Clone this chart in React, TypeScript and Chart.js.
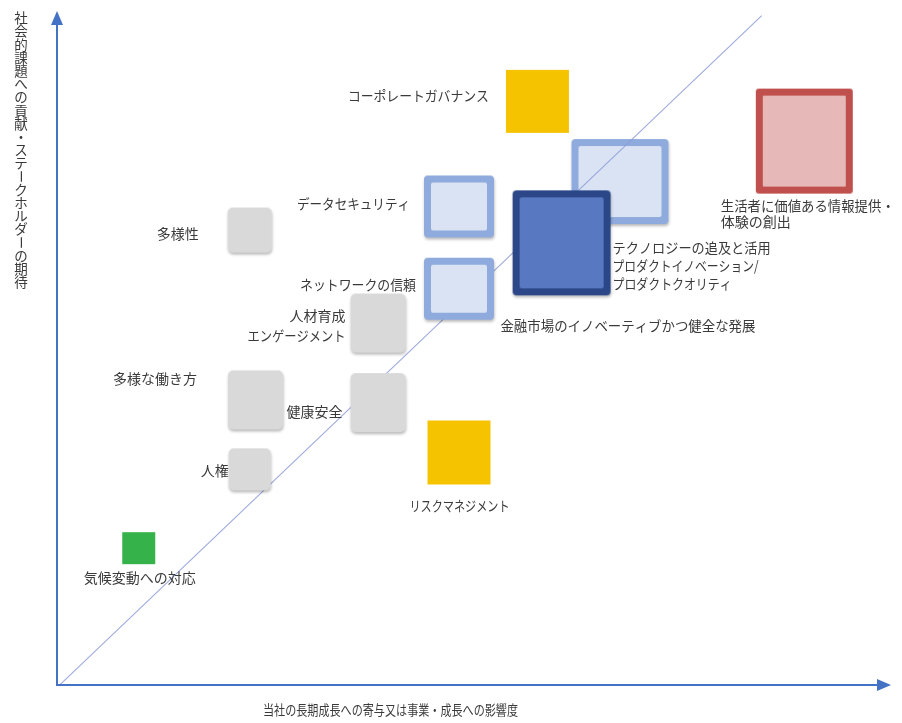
import React, { useEffect, useRef } from 'react';
import { Chart, registerables } from 'chart.js';

Chart.register(...registerables);

const FONT = "'Noto Sans CJK JP', 'Noto Sans CJK SC', sans-serif";
const TEXT = '#3a3a3a';
const AXIS = '#4472C4';
const W = 902;
const H = 723;

// ---- data ----
const topics: string[] = [
  'コーポレートガバナンス',
  '金融市場のイノベーティブかつ健全な発展',
  'テクノロジーの追及と活用\nプロダクトイノベーション/\nプロダクトクオリティ',
  '生活者に価値ある情報提供・\n体験の創出',
  'データセキュリティ',
  'ネットワークの信頼',
  '多様性',
  '人材育成\nエンゲージメント',
  '健康安全',
  '多様な働き方',
  '人権',
  'リスクマネジメント',
  '気候変動への対応',
];
// 当社の長期成長への寄与又は事業・成長への影響度 (x)
const businessImpact: number[] = [57.6, 67.5, 60.5, 89.6, 48.2, 48.2, 23.1, 38.5, 38.5, 23.8, 23.1, 48.2, 9.8];
// 社会的課題への貢献・ステークホルダーの期待 (y)
const stakeholderExpectation: number[] = [86.6, 74.7, 65.6, 80.7, 71.0, 58.8, 67.5, 53.7, 41.9, 42.3, 32.0, 34.5, 20.3];
// topics drawn beneath the reference diagonal
const backLayer: number[] = [1];
// reference diagonal
const diagonalX: number[] = [0.4, 84.5];
const diagonalY: number[] = [0.1, 99.3];

const xTitle = '当社の長期成長への寄与又は事業・成長への影響度';
const yTitle = '社会的課題への貢献・ステークホルダーの期待';

// ---- styles ----
type Look = { w: number; h: number; fill: string; stroke?: string; bw?: number; r: number; shadow: boolean };
const LB = { fill: '#DAE3F3', stroke: '#8FAADC', bw: 7, r: 4, shadow: true };
const GREY = { fill: '#D9D9D9', r: 5, shadow: true };
const looks: Look[] = [
  { w: 63, h: 63, fill: '#F6C300', r: 0, shadow: false },
  { w: 97, h: 85, ...LB },
  { w: 98, h: 105, fill: '#5879C1', stroke: '#2B4787', bw: 7, r: 4, shadow: true },
  { w: 97, h: 105, fill: '#E6B8B7', stroke: '#C0504D', bw: 7, r: 3, shadow: false },
  { w: 70, h: 62, ...LB },
  { w: 70, h: 62, ...LB },
  { w: 44, h: 45, ...GREY },
  { w: 55, h: 59, ...GREY },
  { w: 55, h: 59, ...GREY },
  { w: 55, h: 59, ...GREY },
  { w: 42, h: 42, ...GREY },
  { w: 63, h: 64, fill: '#F6C300', r: 0, shadow: false },
  { w: 33, h: 32, fill: '#35B34A', r: 0, shadow: false },
];

type LabelLook = { dx: number; dy: number; align: CanvasTextAlign; lh: number; widths: number[] };
const labelLooks: LabelLook[] = [
  { dx: -48.5, dy: -5.5, align: 'right', lh: 18, widths: [141] },
  { dx: 8, dy: 144.5, align: 'center', lh: 18, widths: [255] },
  { dx: 51, dy: 4.5, align: 'left', lh: 18, widths: [158, 146, 119] },
  { dx: -83.5, dy: 64.5, align: 'left', lh: 16, widths: [174, 71] },
  { dx: -49, dy: -3, align: 'right', lh: 18, widths: [113] },
  { dx: -43, dy: -4, align: 'right', lh: 18, widths: [116] },
  { dx: -51, dy: 3.5, align: 'right', lh: 18, widths: [43] },
  { dx: -32.5, dy: -7.5, align: 'right', lh: 20, widths: [58, 98] },
  { dx: -35.5, dy: 9.5, align: 'right', lh: 18, widths: [58] },
  { dx: -58.5, dy: -21.5, align: 'right', lh: 18, widths: [84] },
  { dx: -21, dy: 1, align: 'right', lh: 18, widths: [30] },
  { dx: 0.5, dy: 53, align: 'center', lh: 18, widths: [100] },
  { dx: 1, dy: 30, align: 'center', lh: 18, widths: [115] },
];

function roundRect(ctx: CanvasRenderingContext2D, x: number, y: number, w: number, h: number, r: number) {
  ctx.beginPath();
  if (r <= 0) {
    ctx.rect(x, y, w, h);
    return;
  }
  ctx.moveTo(x + r, y);
  ctx.lineTo(x + w - r, y);
  ctx.arcTo(x + w, y, x + w, y + r, r);
  ctx.lineTo(x + w, y + h - r);
  ctx.arcTo(x + w, y + h, x + w - r, y + h, r);
  ctx.lineTo(x + r, y + h);
  ctx.arcTo(x, y + h, x, y + h - r, r);
  ctx.lineTo(x, y + r);
  ctx.arcTo(x, y, x + r, y, r);
  ctx.closePath();
}

function makeSquare(l: Look): HTMLCanvasElement {
  const pad = 8;
  const c = document.createElement('canvas');
  c.width = l.w + pad * 2;
  c.height = l.h + pad * 2;
  const ctx = c.getContext('2d')!;
  ctx.save();
  if (l.shadow) {
    ctx.shadowColor = 'rgba(0,0,0,0.28)';
    ctx.shadowBlur = 3;
    ctx.shadowOffsetY = 2;
    ctx.shadowOffsetX = 0.5;
  }
  roundRect(ctx, pad, pad, l.w, l.h, l.r);
  ctx.fillStyle = l.stroke || l.fill;
  ctx.fill();
  ctx.restore();
  if (l.stroke && l.bw) {
    roundRect(ctx, pad + l.bw, pad + l.bw, l.w - 2 * l.bw, l.h - 2 * l.bw, Math.max(0, l.r - 2));
    ctx.fillStyle = l.fill;
    ctx.fill();
  }
  return c;
}

const annotate = {
  id: 'annotate',
  afterDatasetsDraw(chart: any) {
    const { ctx, chartArea: a, scales } = chart;
    const xs = scales.x;
    const ys = scales.y;
    ctx.save();
    // axes with arrowheads
    ctx.strokeStyle = AXIS;
    ctx.fillStyle = AXIS;
    ctx.lineWidth = 2;
    ctx.beginPath();
    ctx.moveTo(a.left, a.bottom);
    ctx.lineTo(a.right - 10, a.bottom);
    ctx.moveTo(a.left, a.bottom + 1);
    ctx.lineTo(a.left, a.top + 10);
    ctx.stroke();
    ctx.beginPath();
    ctx.moveTo(a.right, a.bottom);
    ctx.lineTo(a.right - 14, a.bottom - 6);
    ctx.lineTo(a.right - 14, a.bottom + 6);
    ctx.closePath();
    ctx.fill();
    ctx.beginPath();
    ctx.moveTo(a.left, a.top);
    ctx.lineTo(a.left - 6, a.top + 14);
    ctx.lineTo(a.left + 6, a.top + 14);
    ctx.closePath();
    ctx.fill();

    // topic labels
    ctx.fillStyle = TEXT;
    ctx.font = `14px ${FONT}`;
    ctx.textBaseline = 'middle';
    topics.forEach((t, i) => {
      const px = xs.getPixelForValue(businessImpact[i]);
      const py = ys.getPixelForValue(stakeholderExpectation[i]);
      const L = labelLooks[i];
      ctx.textAlign = L.align;
      t.split('\n').forEach((line, k) => {
        ctx.fillText(line, px + L.dx, py + L.dy + k * L.lh, L.widths[k]);
      });
    });

    // x title
    ctx.font = `13.5px ${FONT}`;
    ctx.textAlign = 'center';
    ctx.fillText(xTitle, a.left + 333.5, a.bottom + 25, 255);

    // y title (vertical writing)
    ctx.font = `13.5px ${FONT}`;
    const chars = Array.from(yTitle);
    chars.forEach((ch, k) => {
      const cx = a.left - 36;
      const cy = a.top + 7 + k * 13.2;
      if (ch === 'ー') {
        ctx.save();
        ctx.translate(cx, cy);
        ctx.rotate(Math.PI / 2);
        ctx.fillText(ch, 0, 0);
        ctx.restore();
      } else {
        ctx.fillText(ch, cx, cy);
      }
    });
    ctx.restore();
  },
};

export default function App() {
  const ref = useRef<HTMLCanvasElement | null>(null);

  useEffect(() => {
    if (!ref.current) return;
    const images = looks.map(makeSquare);
    const front = topics.map((_, i) => i).filter((i) => !backLayer.includes(i));
    const back = backLayer;
    const mk = (idx: number[]) => idx.map((i) => ({ x: businessImpact[i], y: stakeholderExpectation[i], i }));

    const chart = new Chart(ref.current, {
      type: 'scatter',
      data: {
        datasets: [
          {
            label: 'front',
            data: mk(front) as any,
            order: 1,
            pointRadius: 10,
            pointHoverRadius: 10,
            pointStyle: (c: any) => images[c.raw ? c.raw.i : 0],
            clip: false as any,
          },
          {
            label: 'diagonal',
            type: 'line',
            data: diagonalX.map((x, k) => ({ x, y: diagonalY[k] })) as any,
            order: 2,
            borderColor: 'rgba(140,155,215,0.85)',
            borderWidth: 1.1,
            pointRadius: 0,
            showLine: true,
            fill: false,
            clip: false as any,
          },
          {
            label: 'back',
            data: mk(back) as any,
            order: 3,
            pointRadius: 10,
            pointHoverRadius: 10,
            pointStyle: (c: any) => images[c.raw ? c.raw.i : 0],
            clip: false as any,
          },
        ],
      },
      options: {
        animation: false,
        responsive: false,
        maintainAspectRatio: false,
        devicePixelRatio: 1,
        layout: { padding: { left: 57, right: 3, top: 10, bottom: 38 } },
        scales: {
          x: { type: 'linear', min: 0, max: 100, display: false },
          y: { type: 'linear', min: 0, max: 100, display: false },
        },
        plugins: {
          legend: { display: false },
          tooltip: { enabled: false },
        },
        events: [],
      },
      plugins: [annotate],
    });
    return () => chart.destroy();
  }, []);

  return (
    <div style={{ position: 'fixed', left: 0, top: 0, width: W, height: H, overflow: 'hidden', background: '#fff' }}>
      <canvas ref={ref} width={W} height={H} style={{ display: 'block', width: W, height: H }} />
    </div>
  );
}
